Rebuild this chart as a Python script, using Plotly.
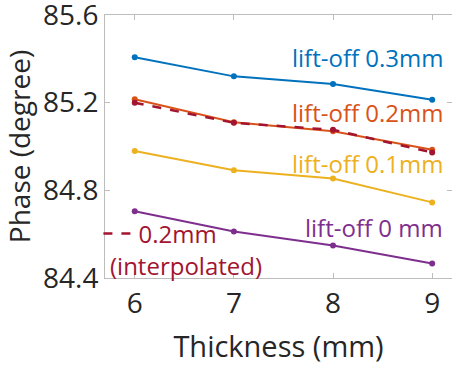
import plotly.graph_objects as go

thickness = [6, 7, 8, 9]
lift_03 = [85.407, 85.320, 85.285, 85.213]
lift_02 = [85.216, 85.111, 85.070, 84.985]
lift_02_interp = [85.200, 85.108, 85.076, 84.973]
lift_01 = [84.979, 84.892, 84.854, 84.745]
lift_00 = [84.705, 84.612, 84.548, 84.466]

y_ticks = [84.4, 84.8, 85.2, 85.6]
x_ticks = [6, 7, 8, 9]

FONT = "Open Sans"
c_blue, c_orange, c_yellow, c_purple, c_red = "#0072BD", "#D95319", "#EDB120", "#7E2F8E", "#A2142F"

fig = go.Figure()
for ys, col, lab in [(lift_03, c_blue, "lift-off 0.3mm"), (lift_02, c_orange, "lift-off 0.2mm"),
                     (lift_01, c_yellow, "lift-off 0.1mm"), (lift_00, c_purple, "lift-off 0 mm")]:
    fig.add_trace(go.Scatter(x=thickness, y=ys, mode="lines+markers", name=lab,
                             line=dict(color=col, width=2), marker=dict(color=col, size=6),
                             showlegend=False))
fig.add_trace(go.Scatter(x=thickness, y=lift_02_interp, mode="lines",
                         name="0.2mm",
                         line=dict(color=c_red, width=2.5, dash="dash"),
                         showlegend=True))
fig.add_trace(go.Scatter(x=thickness, y=lift_02_interp, mode="markers",
                         marker=dict(color=c_red, size=6), showlegend=False))

labels = [("lift-off 0.3mm", c_blue, 85.408), ("lift-off 0.2mm", c_orange, 85.157),
          ("lift-off 0.1mm", c_yellow, 84.924), ("lift-off 0 mm", c_purple, 84.632)]
for txt, col, yv in labels:
    fig.add_annotation(x=0.98, xref="paper", y=yv, yref="y", text=txt, showarrow=False,
                       xanchor="right", yanchor="middle",
                       font=dict(family=FONT, size=24, color=col))
fig.add_annotation(x=0.01, xref="paper", y=84.458, yref="y", text="(interpolated)", showarrow=False,
                   xanchor="left", yanchor="middle", font=dict(family=FONT, size=24, color=c_red))

axis_common = dict(showgrid=False, zeroline=False, showline=True, linecolor="#BDBDBD",
                   linewidth=1, mirror="ticks", ticks="inside", ticklen=5, tickcolor="#BDBDBD",
                   ticklabeloverflow="allow", automargin=False,
                   tickfont=dict(family=FONT, size=28, color="#262626"))
fig.update_xaxes(range=[5.7, 9.2], tickvals=x_ticks, ticktext=[str(v) for v in x_ticks],
                 title=dict(text="Thickness (mm)", font=dict(family=FONT, size=29, color="#262626"),
                            standoff=17),
                 **axis_common)
fig.update_yaxes(range=[84.4, 85.6], tickvals=y_ticks, ticktext=[f"{v:.1f}" for v in y_ticks],
                 title=dict(text="Phase (degree)", font=dict(family=FONT, size=28, color="#262626"),
                            standoff=4),
                 **axis_common)

fig.update_layout(width=452, height=367, margin=dict(l=105, r=0, t=15, b=89),
                  paper_bgcolor="white", plot_bgcolor="white",
                  legend=dict(x=-0.019, y=0.168, xanchor="left", yanchor="middle",
                              bgcolor="rgba(0,0,0,0)", itemwidth=30,
                              font=dict(family=FONT, size=24, color=c_red)))
fig.write_html("out.html", config={"displayModeBar": False},
               post_script="document.body.style.margin='0';")
